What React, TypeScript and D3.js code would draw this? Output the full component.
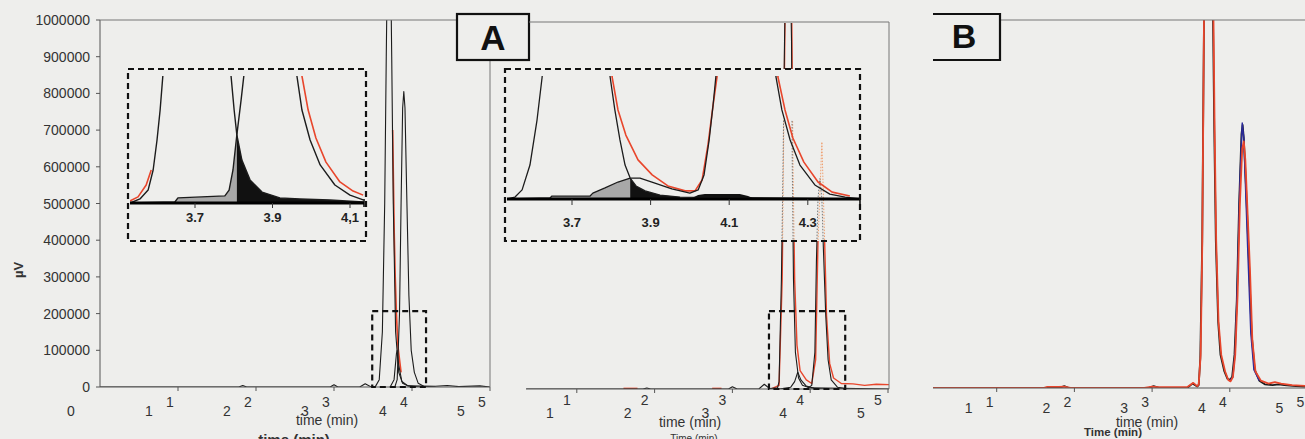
import React from "react";
import * as d3 from "d3";

type Pt = [number, number];

// ---------- axis values ----------
const yTicks = [0, 100000, 200000, 300000, 400000, 500000, 600000, 700000, 800000, 900000, 1000000];
const timeTicks = [1, 2, 3, 4, 5];
const lowerTimeLabelsA = [0, 1, 2, 3, 4, 5];
const inset1Ticks = [3.7, 3.9, 4.1];
const inset2Ticks = [3.7, 3.9, 4.1, 4.3];

// ---------- panel A (left) traces: [time (min), µV] ----------
const A_black1: Pt[] = [[0, 0], [1.78, 0], [1.83, 4000], [1.88, 0], [2.95, 0], [3.0, 6000], [3.05, 0], [3.33, 0], [3.4, 9000], [3.47, 1000], [3.53, 1000], [3.58, 20000], [3.62, 150000], [3.65, 500000], [3.67, 900000], [3.68, 1080000], [3.73, 1080000], [3.74, 900000], [3.76, 500000], [3.79, 150000], [3.83, 40000], [3.88, 10000], [3.95, 3000], [4.3, 2000], [4.45, 4000], [4.6, 1000], [4.87, 3000], [5, 0]];
const A_black2: Pt[] = [[3.78, 0], [3.81, 20000], [3.84, 200000], [3.86, 500000], [3.88, 760000], [3.895, 805000], [3.91, 760000], [3.93, 550000], [3.96, 250000], [3.99, 100000], [4.03, 40000], [4.08, 10000], [4.15, 2000], [4.3, 0]];
const A_black3: Pt[] = [[3.72, 0], [3.77, 20000], [3.8, 90000], [3.81, 100000], [3.83, 60000], [3.87, 15000], [3.95, 3000], [4.1, 0]];
const A_red: Pt[] = [[3.752, 700000], [3.762, 560000], [3.772, 420000], [3.785, 300000], [3.8, 200000], [3.82, 110000], [3.86, 40000]];

// ---------- middle panel traces ----------
const M_red: Pt[] = [[3.5, 0], [3.6, 10000], [3.64, 300000], [3.66, 700000], [3.68, 1080000], [3.76, 1080000], [3.78, 600000], [3.8, 300000], [3.83, 120000], [3.87, 50000], [3.95, 25000], [4.02, 15000], [4.07, 80000], [4.1, 400000], [4.15, 675000], [4.18, 450000], [4.21, 200000], [4.25, 70000], [4.3, 30000], [4.4, 15000], [4.55, 14000], [4.7, 10000], [4.85, 13000], [5.02, 12000]];
const M_redBase1: Pt[] = [[1.6, 1500], [1.78, 1500]];
const M_redBase2: Pt[] = [[2.74, 1500], [2.86, 1500]];
const M_black1: Pt[] = [[0.35, 0], [1.85, 0], [1.9, 2500], [1.95, 0], [2.95, 0], [3.0, 6000], [3.06, 0], [3.34, 0], [3.41, 13000], [3.48, 1000], [3.58, 3000], [3.6, 20000], [3.63, 300000], [3.65, 600000], [3.67, 950000], [3.68, 1080000], [3.75, 1080000], [3.76, 950000], [3.77, 600000], [3.785, 300000], [3.81, 100000], [3.85, 30000], [3.9, 10000], [4.0, 3000], [4.4, 2000], [5.02, 0]];
const M_black2: Pt[] = [[3.6, 0], [3.75, 5000], [3.8, 20000], [3.84, 46000], [3.88, 25000], [3.95, 8000], [4.05, 2000], [4.2, 0]];
const M_black3: Pt[] = [[3.95, 0], [4.02, 10000], [4.06, 100000], [4.08, 350000], [4.1, 520000], [4.125, 575000], [4.15, 520000], [4.17, 380000], [4.2, 200000], [4.23, 80000], [4.27, 25000], [4.35, 5000], [4.5, 0]];

// ---------- panel B traces ----------
const B_black: Pt[] = [[0.18, 0], [1.8, 0], [1.87, 5000], [1.93, 0], [2.95, 0], [3.02, 5000], [3.1, 0], [3.45, 0], [3.52, 12000], [3.58, 4000], [3.6, 8000], [3.62, 80000], [3.645, 400000], [3.66, 800000], [3.668, 1000000], [3.675, 1080000], [3.78, 1080000], [3.784, 1000000], [3.8, 700000], [3.82, 400000], [3.85, 180000], [3.88, 90000], [3.93, 45000], [3.97, 25000], [4.0, 22000], [4.03, 30000], [4.06, 90000], [4.09, 240000], [4.12, 500000], [4.15, 690000], [4.165, 715000], [4.18, 680000], [4.21, 540000], [4.24, 380000], [4.28, 150000], [4.32, 50000], [4.38, 20000], [4.45, 10000], [4.55, 8000], [4.63, 10000], [4.7, 8000], [4.85, 5000], [5.05, 3000]];
const B_blue: Pt[] = [[4.0, 20000], [4.04, 30000], [4.07, 100000], [4.1, 300000], [4.13, 560000], [4.16, 720000], [4.18, 680000], [4.2, 560000], [4.23, 380000], [4.27, 150000], [4.31, 50000], [4.38, 20000]];
const B_red: Pt[] = [[0.18, 0], [1.6, 0], [1.65, 3000], [1.8, 3000], [1.87, 4000], [1.95, 0], [2.9, 0], [3.0, 4000], [3.08, 2000], [3.45, 2000], [3.53, 14000], [3.58, 5000], [3.6, 10000], [3.625, 90000], [3.645, 380000], [3.66, 780000], [3.668, 1000000], [3.675, 1080000], [3.785, 1080000], [3.79, 1000000], [3.805, 700000], [3.825, 400000], [3.855, 180000], [3.89, 90000], [3.94, 45000], [3.98, 22000], [4.01, 18000], [4.04, 30000], [4.07, 90000], [4.1, 250000], [4.13, 500000], [4.16, 650000], [4.18, 670000], [4.2, 620000], [4.23, 470000], [4.26, 320000], [4.29, 130000], [4.33, 45000], [4.4, 20000], [4.5, 12000], [4.58, 16000], [4.66, 12000], [4.8, 8000], [5.05, 5000]];

// ---------- inset 1 (panel A zoom) ----------
const I1_peakX: Pt[] = [[3.532, 0], [3.558, 1600], [3.579, 5100], [3.592, 13000], [3.602, 24800], [3.61, 36600], [3.617, 50000], [3.625, 64000], [3.785, 64000], [3.793, 50000], [3.801, 36600], [3.808, 26800], [3.821, 16900], [3.842, 9100], [3.873, 4300], [3.919, 2000], [3.971, 1600], [4.048, 1200], [4.134, 400]];
const I1_peakY: Pt[] = [[3.532, 0], [3.648, 400], [3.656, 2000], [3.777, 2800], [3.788, 5100], [3.798, 13000], [3.808, 26800], [3.819, 40600], [3.826, 50000], [3.832, 64000], [3.955, 64000], [3.963, 50000], [3.976, 36600], [3.997, 24800], [4.023, 15000], [4.061, 7100], [4.1, 3100], [4.134, 1200]];
const I1_redX: Pt[] = [[3.532, 800], [3.553, 2400], [3.574, 7100], [3.587, 13000]];
const I1_redY: Pt[] = [[3.968, 64000], [3.976, 50000], [3.992, 36600], [4.012, 25600], [4.038, 16100], [4.074, 8300], [4.108, 4700], [4.134, 3100]];
const I1_cross = 3.808;

// ---------- inset 2 (middle zoom) ----------
const I2_peak1: Pt[] = [[3.535, 0], [3.555, 800], [3.573, 3700], [3.593, 13800], [3.611, 32100], [3.624, 49600], [3.631, 62600], [3.789, 62600], [3.797, 49600], [3.809, 36200], [3.822, 24000], [3.835, 13800], [3.848, 8500], [3.863, 5300], [3.886, 3300], [3.924, 1600], [3.975, 800], [4.433, 0]];
const I2_peak2: Pt[] = [[3.535, 0], [3.644, 400], [3.649, 1200], [3.746, 1200], [3.753, 2400], [3.784, 4500], [3.817, 6900], [3.848, 8500], [3.873, 8500], [3.911, 6500], [3.954, 4100], [4.0, 2400], [4.021, 3700], [4.036, 9800], [4.049, 24000], [4.059, 38200], [4.066, 49600], [4.072, 62600], [4.211, 62600], [4.219, 49600], [4.234, 36200], [4.255, 24000], [4.28, 13800], [4.318, 5700], [4.356, 2000], [4.395, 800], [4.433, 0]];
const I2_red: Pt[] = [[3.794, 62600], [3.802, 49600], [3.817, 36200], [3.837, 26000], [3.868, 15900], [3.904, 9800], [3.944, 5300], [3.988, 3300], [4.013, 3300], [4.031, 7700], [4.046, 22000], [4.059, 38200], [4.069, 49600], [4.074, 62600], [4.217, 62600], [4.224, 49600], [4.242, 36200], [4.262, 24800], [4.29, 15000], [4.326, 6900], [4.362, 2800], [4.407, 1200]];
const I2_hump: Pt[] = [[4.0, 0], [4.021, 1600], [4.038, 2000], [4.127, 2000], [4.148, 1200], [4.166, 0]];
const I2_cross = 3.848;
const I2_fillEnd = 3.975;

const BG = "#eeeeec";
const FONT = "'Liberation Sans', Arial, Helvetica, sans-serif";
const BLACK = "#1c1c1c";
const RED = "#e8462c";
const BLUE = "#2a2a9c";

function path(data: Pt[], xs: d3.ScaleLinear<number, number>, ys: d3.ScaleLinear<number, number>) {
  return d3.line<Pt>().x(d => xs(d[0])).y(d => ys(d[1]))(data) || "";
}
function areaPath(data: Pt[], xs: d3.ScaleLinear<number, number>, ys: d3.ScaleLinear<number, number>) {
  return d3.area<Pt>().x(d => xs(d[0])).y0(ys(0)).y1(d => ys(d[1]))(data) || "";
}

export default function App() {
  const W = 1305, H = 439;

  // main scales
  const xA = d3.scaleLinear().domain([0, 5]).range([100, 490]);
  const yA = d3.scaleLinear().domain([0, 1000000]).range([387, 20]);
  const xM = d3.scaleLinear().domain([0, 5]).range([499, 888]);
  const yM = d3.scaleLinear().domain([0, 1000000]).range([389, 23]);
  const xB = d3.scaleLinear().domain([0, 5]).range([919, 1307.5]);
  const yB = d3.scaleLinear().domain([0, 1000000]).range([388, 20]);

  // inset scales
  const xI1 = d3.scaleLinear().domain([3.7, 4.1]).range([195, 350]);
  const yI1 = d3.scaleLinear().domain([0, 50000]).range([203, 76]);
  const xI2 = d3.scaleLinear().domain([3.7, 4.3]).range([572, 807.8]);
  const yI2 = d3.scaleLinear().domain([0, 50000]).range([199, 76]);

  const I1_grey = I1_peakY.filter(d => d[0] <= I1_cross);
  const I1_black = I1_peakX.filter(d => d[0] >= I1_cross);
  const I2_grey = I2_peak2.filter(d => d[0] <= I2_cross);
  const I2_black = I2_peak1.filter(d => d[0] >= I2_cross && d[0] <= I2_fillEnd);

  const inset1Box = { x: 128, y: 69, w: 238, h: 172 };
  const inset2Box = { x: 505, y: 69, w: 355, h: 172 };
  const zoomBoxA = { t0: 3.49, t1: 4.18, v: 207000 };
  const zoomBoxM = { t0: 3.47, t1: 4.45, v: 213000 };

  return (
    <svg width={W} height={H} style={{ position: "fixed", left: 0, top: 0, background: BG }} fontFamily={FONT}>
      <defs>
        <clipPath id="clipA"><rect x={100} y={20} width={390} height={367} /></clipPath>
        <clipPath id="clipM"><rect x={526} y={23} width={363} height={366} /></clipPath>
        <clipPath id="clipB"><rect x={933} y={20} width={372} height={368} /></clipPath>
        <clipPath id="clipI1"><rect x={130} y={76} width={234} height={128} /></clipPath>
        <clipPath id="clipI2"><rect x={507} y={76} width={353} height={124} /></clipPath>
        <clipPath id="clipI2dots"><rect x={507} y={120} width={353} height={120} /></clipPath>
      </defs>
      <rect x={0} y={0} width={W} height={H} fill={BG} />

      {/* ================= PANEL A ================= */}
      <g clipPath="url(#clipA)" fill="none" strokeLinejoin="round">
        <path d={path(A_red, xA, yA)} stroke={RED} strokeWidth={1.6} />
        <path d={path(A_black1, xA, yA)} stroke={BLACK} strokeWidth={1.1} />
        <path d={path(A_black2, xA, yA)} stroke={BLACK} strokeWidth={1.1} />
        <path d={path(A_black3, xA, yA)} stroke={BLACK} strokeWidth={1.1} />
      </g>
      {/* axes A */}
      <line x1={100} x2={100} y1={20} y2={387} stroke="#555" />
      <line x1={100} x2={490} y1={387} y2={387} stroke="#555" />
      <line x1={100} x2={457} y1={20} y2={20} stroke="#777" />
      <line x1={490} x2={490} y1={60} y2={387} stroke="#777" />
      {yTicks.map(v => (
        <g key={v}>
          <line x1={96} x2={100} y1={yA(v)} y2={yA(v)} stroke="#555" />
          <text x={90} y={yA(v) + 5} fontSize={14} textAnchor="end" fill="#333">{v}</text>
        </g>
      ))}
      <text transform="translate(23,270) rotate(-90)" fontSize={13} fontWeight="bold" textAnchor="middle" fill="#333">µV</text>
      {timeTicks.map(t => (
        <line key={t} x1={xA(t)} x2={xA(t)} y1={387} y2={391} stroke="#555" />
      ))}
      {timeTicks.map(t => (
        <text key={"ua" + t} x={xA(t) - 8} y={407} fontSize={14} textAnchor="middle" fill="#333">{t}</text>
      ))}
      {lowerTimeLabelsA.map(t => (
        <text key={"la" + t} x={xA(t) - 29} y={416} fontSize={14} textAnchor="middle" fill="#333">{t}</text>
      ))}
      <text x={327} y={425} fontSize={14} textAnchor="middle" fill="#333">time (min)</text>
      <text x={294} y={445} fontSize={15} fontWeight="bold" textAnchor="middle" fill="#333">time (min)</text>

      {/* zoom box A */}
      <rect x={xA(zoomBoxA.t0)} y={yA(zoomBoxA.v)} width={xA(zoomBoxA.t1) - xA(zoomBoxA.t0)} height={yA(0) - yA(zoomBoxA.v)}
        fill="none" stroke="#111" strokeWidth={2.2} strokeDasharray="6,4" />

      {/* inset 1 */}
      <rect x={inset1Box.x} y={inset1Box.y} width={inset1Box.w} height={inset1Box.h} fill={BG} />
      <g clipPath="url(#clipI1)">
        <path d={areaPath(I1_grey, xI1, yI1)} fill="#a8a8a8" />
        <path d={areaPath(I1_black, xI1, yI1)} fill="#111" />
        <g fill="none" strokeLinejoin="round">
          <path d={path(I1_redX, xI1, yI1)} stroke={RED} strokeWidth={1.6} />
          <path d={path(I1_redY, xI1, yI1)} stroke={RED} strokeWidth={1.6} />
          <path d={path(I1_peakX, xI1, yI1)} stroke={BLACK} strokeWidth={1.4} />
          <path d={path(I1_peakY, xI1, yI1)} stroke={BLACK} strokeWidth={1.4} />
        </g>
      </g>
      <line x1={130} x2={364} y1={yI1(0)} y2={yI1(0)} stroke="#000" strokeWidth={3} />
      <line x1={364} x2={364} y1={yI1(0) - 4} y2={yI1(0) + 4} stroke="#000" strokeWidth={1.5} />
      {inset1Ticks.map(t => (
        <g key={t}>
          <line x1={xI1(t)} x2={xI1(t)} y1={yI1(0)} y2={yI1(0) + 5} stroke="#333" />
          <text x={xI1(t)} y={222} fontSize={13} fontWeight="bold" textAnchor="middle" fill="#222">{t === 4.1 ? "4,1" : String(t)}</text>
        </g>
      ))}
      <rect x={inset1Box.x} y={inset1Box.y} width={inset1Box.w} height={inset1Box.h} fill="none" stroke="#111" strokeWidth={2.2} strokeDasharray="6,4" />

      {/* A label box */}
      <rect x={457} y={14} width={72} height={46} fill={BG} stroke="#111" strokeWidth={2.2} />
      <text x={493} y={50} fontSize={35} fontWeight="bold" textAnchor="middle" fill="#111">A</text>

      {/* ================= MIDDLE PANEL ================= */}
      <g clipPath="url(#clipM)" fill="none" strokeLinejoin="round">
        <path d={path(M_red, xM, yM)} stroke={RED} strokeWidth={1.4} />
        <path d={path(M_redBase1, xM, yM)} stroke={RED} strokeWidth={1.6} />
        <path d={path(M_redBase2, xM, yM)} stroke={RED} strokeWidth={1.6} />
        <path d={path(M_black1, xM, yM)} stroke={BLACK} strokeWidth={1.1} />
        <path d={path(M_black2, xM, yM)} stroke={BLACK} strokeWidth={1.1} />
        <path d={path(M_black3, xM, yM)} stroke={BLACK} strokeWidth={1.1} />
      </g>
      <line x1={529} x2={889} y1={22} y2={22} stroke="#777" />
      <line x1={889} x2={889} y1={22} y2={389} stroke="#777" />
      <line x1={526} x2={889} y1={389} y2={389} stroke="#555" />
      {timeTicks.map(t => (
        <line key={"mt" + t} x1={xM(t)} x2={xM(t)} y1={389} y2={393} stroke="#555" />
      ))}
      {timeTicks.map(t => (
        <text key={"mu" + t} x={xM(t) - 10} y={405} fontSize={14} textAnchor="middle" fill="#333">{t}</text>
      ))}
      {timeTicks.map(t => (
        <text key={"ml" + t} x={xM(t) - 27} y={418} fontSize={14} textAnchor="middle" fill="#333">{t}</text>
      ))}
      <text x={690} y={427} fontSize={14} textAnchor="middle" fill="#333">time (min)</text>
      <text x={694} y={442} fontSize={10} textAnchor="middle" fill="#333">Time (min)</text>

      <rect x={xM(zoomBoxM.t0)} y={yM(zoomBoxM.v)} width={xM(zoomBoxM.t1) - xM(zoomBoxM.t0)} height={yM(0) - yM(zoomBoxM.v)}
        fill="none" stroke="#111" strokeWidth={2.2} strokeDasharray="6,4" />

      {/* inset 2 */}
      <rect x={inset2Box.x} y={inset2Box.y} width={inset2Box.w} height={inset2Box.h} fill={BG} />
      <g clipPath="url(#clipI2dots)" fill="none">
        <path d={path(M_red, xM, yM)} stroke="#f0a070" strokeWidth={1} strokeDasharray="1.5,1.5" />
        <path d={path(M_black1, xM, yM)} stroke="#777" strokeWidth={1} strokeDasharray="1.5,1.5" />
        <path d={path(M_black3, xM, yM)} stroke="#777" strokeWidth={1} strokeDasharray="1.5,1.5" />
      </g>
      <g clipPath="url(#clipI2)">
        <path d={areaPath(I2_grey, xI2, yI2)} fill="#a8a8a8" />
        <path d={areaPath(I2_black, xI2, yI2)} fill="#111" />
        <path d={areaPath(I2_hump, xI2, yI2)} fill="#111" />
        <g fill="none" strokeLinejoin="round">
          <path d={path(I2_red, xI2, yI2)} stroke={RED} strokeWidth={1.6} />
          <path d={path(I2_peak1, xI2, yI2)} stroke={BLACK} strokeWidth={1.3} />
          <path d={path(I2_peak2, xI2, yI2)} stroke={BLACK} strokeWidth={1.3} />
        </g>
      </g>
      <line x1={507} x2={860} y1={yI2(0)} y2={yI2(0)} stroke="#000" strokeWidth={3} />
      <line x1={860} x2={860} y1={yI2(0) - 4} y2={yI2(0) + 5} stroke="#000" strokeWidth={1.5} />
      {inset2Ticks.map(t => (
        <g key={"i2" + t}>
          <line x1={xI2(t)} x2={xI2(t)} y1={yI2(0)} y2={yI2(0) + 6} stroke="#333" />
          <text x={xI2(t)} y={227} fontSize={13} fontWeight="bold" textAnchor="middle" fill="#222">{String(t)}</text>
        </g>
      ))}
      <rect x={inset2Box.x} y={inset2Box.y} width={inset2Box.w} height={inset2Box.h} fill="none" stroke="#111" strokeWidth={2.2} strokeDasharray="6,4" />

      {/* ================= PANEL B ================= */}
      <g clipPath="url(#clipB)" fill="none" strokeLinejoin="round">
        <path d={path(B_black, xB, yB)} stroke={BLACK} strokeWidth={1.8} />
        <path d={path(B_blue, xB, yB)} stroke={BLUE} strokeWidth={1.4} />
        <path d={path(B_red, xB, yB)} stroke={RED} strokeWidth={1.8} />
      </g>
      <line x1={1000} x2={1305} y1={20} y2={20} stroke="#777" />
      <line x1={933} x2={1305} y1={388} y2={388} stroke="#555" />
      {timeTicks.map(t => (
        <line key={"bt" + t} x1={xB(t)} x2={xB(t)} y1={388} y2={392} stroke="#555" />
      ))}
      {timeTicks.map(t => (
        <text key={"bu" + t} x={xB(t) - 7} y={407} fontSize={14} textAnchor="middle" fill="#333">{t}</text>
      ))}
      {timeTicks.map(t => (
        <text key={"bl" + t} x={xB(t) - 28} y={413} fontSize={14} textAnchor="middle" fill="#333">{t}</text>
      ))}
      <text x={1147} y={427} fontSize={14} textAnchor="middle" fill="#333">time (min)</text>
      <text x={1113} y={436} fontSize={11.5} fontWeight="bold" textAnchor="middle" fill="#333">Time (min)</text>

      {/* B label box */}
      <path d="M933,14 H1000 V60 H933" fill={BG} stroke="#111" strokeWidth={2.2} />
      <text x={964} y={48} fontSize={34} fontWeight="bold" textAnchor="middle" fill="#111">B</text>
    </svg>
  );
}
